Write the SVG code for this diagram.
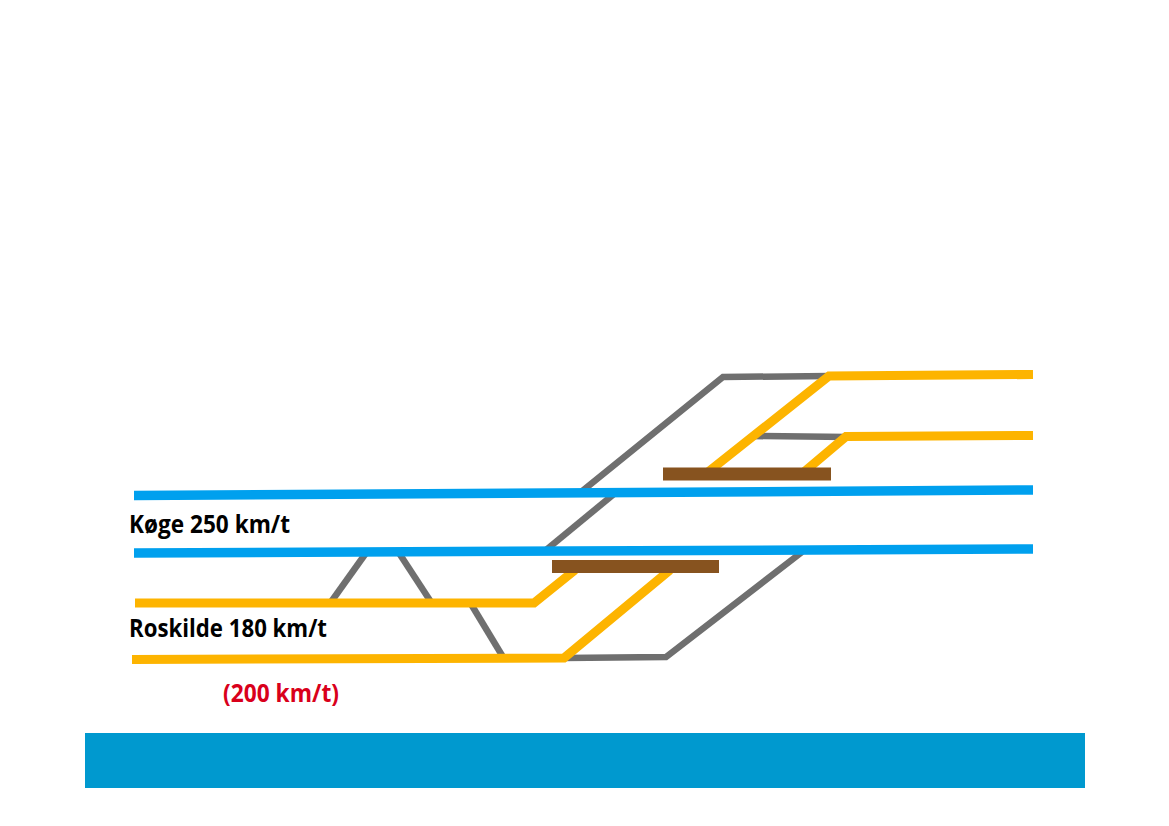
<svg xmlns="http://www.w3.org/2000/svg" width="1169" height="826" viewBox="0 0 1169 826">
<style>
.t{fill:none;stroke-linejoin:miter;stroke-linecap:butt}
.g{stroke:#6f6f6f;stroke-width:6.500}
.y{stroke:#fdb400;stroke-width:9}
.b{stroke:#00a0ee;stroke-width:9.500}
.p{fill:#87531f}
text{font-family:"Open Sans","Liberation Sans",sans-serif;font-weight:700;font-size:25px}
</style>
<rect width="1169" height="826" fill="#fff"/>
<rect id="footer" x="85" y="733" width="1000" height="55" fill="#0099cf"/>
<g id="connectors">
<path class="t g" d="M581 492L723 377L830 376"/>
<path class="t g" d="M546 550L614 494"/>
<path class="t g" d="M752 436L848 437"/>
<path class="t g" d="M563 658L666 657L802 552"/>
<path class="t g" d="M331 602L366 553"/>
<path class="t g" d="M399 553L431 602"/>
<path class="t g" d="M471 604L503 657"/>
<path class="t y" d="M708 472L829 376L1033 374.500"/>
<path class="t y" d="M804 472L846 436.500L1033 435.500"/>
<path class="t y" d="M135 603L534 603L575 570"/>
<path class="t y" d="M132 659.500L564 658L670 570"/>
<path class="t b" d="M134 495.500L1033 490"/>
<path class="t b" d="M134 553L1033 549"/>
</g>
<g id="platform-north"><rect class="p" x="663" y="467.500" width="168" height="13"/></g>
<g id="platform-south"><rect class="p" x="552" y="560" width="167" height="13"/></g>
<g id="label-koege"><text x="129" y="533" textLength="161" lengthAdjust="spacingAndGlyphs">Køge 250 km/t</text></g>
<g id="label-roskilde"><text x="129" y="637" textLength="198" lengthAdjust="spacingAndGlyphs">Roskilde 180 km/t</text></g>
<g id="label-200"><text x="223" y="702" textLength="116" lengthAdjust="spacingAndGlyphs" style="fill:#d9001b">(200 km/t)</text></g>
</svg>
